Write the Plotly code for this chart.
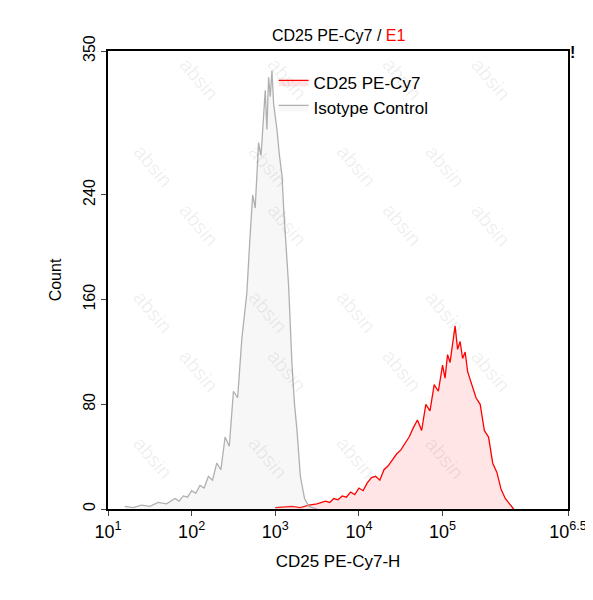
import plotly.graph_objects as go

iso_x = [1.2,1.3,1.4,1.5,1.6,1.7,1.8,1.85,1.9,1.95,2.0,2.05,2.1,2.15,2.2,2.25,2.3,2.35,2.4,2.45,2.5,2.55,2.6,2.63,2.66,2.7,2.73,2.76,2.8,2.83,2.86,2.88,2.9,2.92,2.94,2.96,2.98,3.0,3.02,3.05,3.08,3.1,3.13,3.16,3.2,3.23,3.26,3.3,3.35,3.4,3.5]
iso_y = [2,1,3,2,5,4,8,6,10,9,14,12,18,16,25,22,35,30,55,48,90,85,130,150,165,210,240,230,280,270,300,320,290,330,315,335,310,300,290,270,255,230,200,170,110,80,60,25,8,2,0]
cd_x = [3.0,3.2,3.3,3.4,3.5,3.6,3.65,3.7,3.75,3.8,3.85,3.9,3.95,4.0,4.05,4.1,4.15,4.2,4.25,4.3,4.35,4.4,4.45,4.5,4.55,4.6,4.65,4.7,4.75,4.8,4.85,4.9,4.95,5.0,5.03,5.06,5.09,5.12,5.15,5.18,5.21,5.24,5.27,5.3,5.35,5.4,5.45,5.5,5.55,5.6,5.65,5.7,5.75,5.8,5.85]
cd_y = [1,2,1,3,4,6,5,8,7,10,9,13,11,16,14,20,24,25,22,30,33,38,42,45,50,55,62,68,60,80,75,95,90,110,100,118,112,125,140,122,128,115,120,105,95,85,80,60,55,35,28,15,8,4,0]
xtick_vals = [1,2,3,4,5,6.5]
xtick_text = ["10<sup>1</sup>","10<sup>2</sup>","10<sup>3</sup>","10<sup>4</sup>","10<sup>5</sup>","10<sup>6.5</sup>"]
ytick_vals = [0,80,160,240,350]

fig = go.Figure()
fig.add_trace(go.Scatter(x=cd_x, y=cd_y, name="CD25 PE-Cy7", mode="lines",
    line=dict(color="#ff0000", width=1.3), fill="tozeroy", fillcolor="rgba(255,0,0,0.1)"))
fig.add_trace(go.Scatter(x=iso_x, y=iso_y, name="Isotype Control", mode="lines",
    line=dict(color="#b0b0b0", width=1.3), fill="tozeroy", fillcolor="rgba(200,200,200,0.15)"))

ann = []
for i in range(4):
    for j in range(6):
        ann.append(dict(text="absin", x=0.04+i*0.25+(j%2)*0.1, y=0.05+j*0.19, xref="paper", yref="paper",
                        showarrow=False, textangle=50, font=dict(size=20, color="rgba(0,0,0,0.07)")))
ann.append(dict(text="CD25 PE-Cy7 / <span style='color:red'>E1</span>", x=0.5, y=1.01, xref="paper", yref="paper",
                showarrow=False, yanchor="bottom", font=dict(size=16, color="black")))
ann.append(dict(text="<b>!</b>", x=1.02, y=1.02, xref="paper", yref="paper", showarrow=False, font=dict(size=16, color="black")))
fig.update_layout(
    width=593, height=600, plot_bgcolor="white", paper_bgcolor="white",
    margin=dict(l=100, r=33, t=43, b=99),
    font=dict(family="Arial, Liberation Sans", color="black", size=15),
    annotations=ann,
    legend=dict(x=0.36, y=0.97, bgcolor="rgba(0,0,0,0)", font=dict(size=17)),
    xaxis=dict(range=[1,6.5], tickvals=xtick_vals, ticktext=xtick_text, showgrid=False, zeroline=False,
               showline=True, linecolor="black", linewidth=2, mirror=True, ticks="outside", ticklen=5,
               title=dict(text="CD25 PE-Cy7-H", font=dict(size=17)), tickfont=dict(size=18)),
    yaxis=dict(range=[0,350], tickvals=ytick_vals, showgrid=False, zeroline=False, tickangle=-90,
               showline=True, linecolor="black", linewidth=2, mirror=True, ticks="outside", ticklen=5,
               title=dict(text="Count", font=dict(size=16)), tickfont=dict(size=16)),
)
fig.write_html("out.html")
